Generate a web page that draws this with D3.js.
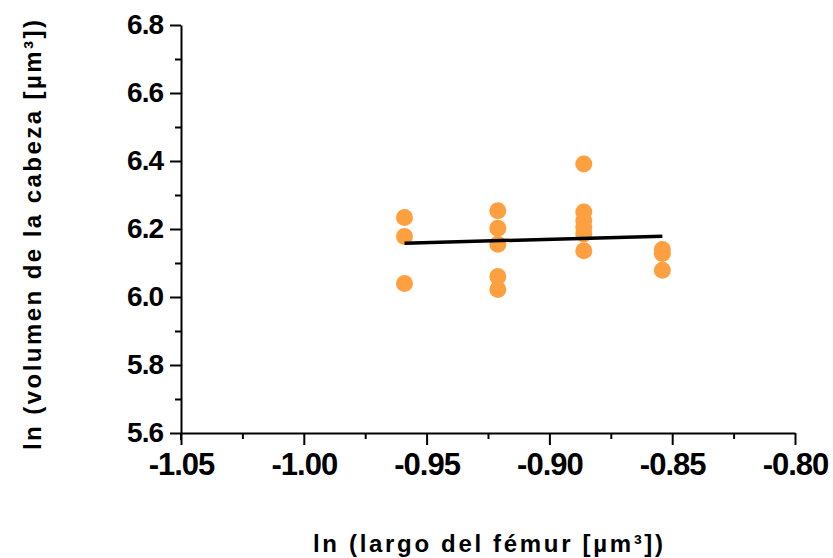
<html>
<head>
<style>
  body { margin: 0; background: #fff; }
  text { font-family: "Liberation Sans", Arial, sans-serif; font-weight: bold; }
</style>
</head>
<body>
<svg id="chart" width="833" height="558"></svg>
<script src="https://cdn.jsdelivr.net/npm/d3@7"></script>
<script>
// femur length (ln) per group and head volume (ln) per point
const femurX = [-0.959, -0.959, -0.959,
                -0.921, -0.921, -0.921, -0.921, -0.921,
                -0.886, -0.886, -0.886, -0.886, -0.886, -0.886,
                -0.854, -0.854, -0.854]
const headY = [6.234, 6.178, 6.040,
               6.254, 6.202, 6.155, 6.060, 6.022,
               6.391, 6.250, 6.225, 6.205, 6.185, 6.136,
               6.140, 6.128, 6.079]
// fitted line end points
const fitX = [-0.959, -0.854]
const fitY = [6.158, 6.179]

const xTicks = [-1.05, -1.00, -0.95, -0.90, -0.85, -0.80]
const yTicks = [5.6, 5.8, 6.0, 6.2, 6.4, 6.6, 6.8]

let svg = d3.select("#chart")

let x = d3.scaleLinear().domain([-1.05, -0.80]).range([181, 795])
let y = d3.scaleLinear().domain([5.6, 6.8]).range([433, 25])

// y axis: major + minor ticks
let yAxis = svg.append("g").attr("transform", "translate(181,0)")
yAxis.append("g")
    .call(d3.axisLeft(y).tickValues(d3.range(5.7, 6.8, 0.2)).tickSize(6).tickFormat(""))
    .call(g => g.select(".domain").remove())
yAxis.append("g")
    .call(d3.axisLeft(y).tickValues(yTicks).tickSize(11).tickSizeOuter(0).tickPadding(7)
        .tickFormat(d3.format(".1f")))
yAxis.selectAll("line, path").attr("stroke", "#000").attr("stroke-width", 2)
yAxis.selectAll("text").attr("font-size", 28).attr("letter-spacing", -1).attr("fill", "#000")
yAxis.append("line").attr("x1", 0).attr("x2", 0).attr("y1", 433).attr("y2", 440)
    .attr("stroke", "#000").attr("stroke-width", 2)

// x axis
let xAxis = svg.append("g").attr("transform", "translate(0,433)")
xAxis.append("g")
    .call(d3.axisBottom(x).tickValues(d3.range(-1.025, -0.81, 0.05)).tickSize(6).tickFormat(""))
    .call(g => g.select(".domain").remove())
xAxis.append("g")
    .call(d3.axisBottom(x).tickValues(xTicks).tickSize(12).tickSizeOuter(0).tickPadding(4)
        .tickFormat(d => d.toFixed(2)))
xAxis.selectAll("line, path").attr("stroke", "#000").attr("stroke-width", 2)
xAxis.selectAll("text").attr("font-size", 31).attr("letter-spacing", -1).attr("fill", "#000")
    .attr("text-anchor", "middle").attr("dy", "0.85em")

// points
svg.append("g").selectAll("circle")
    .data(femurX.map((d, i) => ({ x: d, y: headY[i] })))
    .enter()
    .append("circle")
    .attr("cx", d => x(d.x))
    .attr("cy", d => y(d.y))
    .attr("r", 8.5)
    .attr("fill", "#FFA040")

// fitted line
svg.append("path")
    .datum(fitX.map((d, i) => [d, fitY[i]]))
    .attr("d", d3.line().x(d => x(d[0])).y(d => y(d[1])))
    .attr("stroke", "#000").attr("stroke-width", 3.5).attr("fill", "none")

// axis titles
svg.append("text")
    .attr("transform", "translate(41,235) rotate(-90)")
    .attr("text-anchor", "middle")
    .attr("font-size", 24)
    .attr("textLength", 430)
    .text("ln (volumen de la cabeza [µm³])")
svg.append("text")
    .attr("x", 488).attr("y", 552)
    .attr("text-anchor", "middle")
    .attr("font-size", 24)
    .attr("textLength", 350)
    .text("ln (largo del fémur [µm³])")
</script>
</body>
</html>
